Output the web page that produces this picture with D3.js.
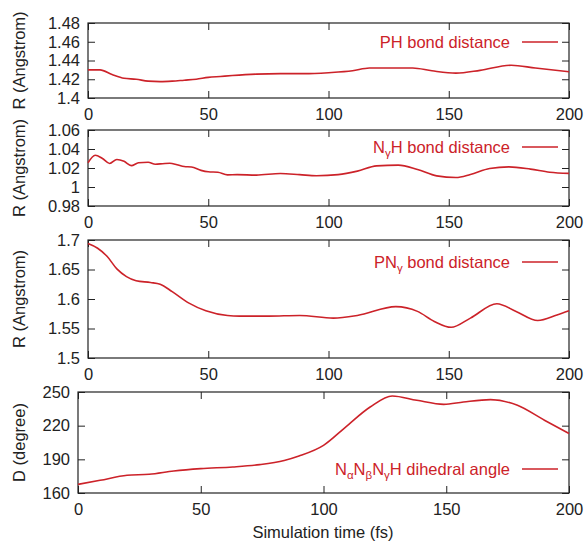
<!DOCTYPE html>
<html>
<head>
<meta charset="utf-8">
<script src="https://cdn.jsdelivr.net/npm/d3@7"></script>
<style>
  body { margin: 0; background: #fff; }
  text { font-family: "Liberation Sans", Arial, Helvetica, sans-serif; }
</style>
</head>
<body>
<div id="chart"></div>
<script>
// time axis (fs)
var xTicks = [0, 50, 100, 150, 200];

// PH bond distance
var phTime = [0, 5, 10, 15, 20, 25, 30, 35, 40, 45, 50, 55, 60, 70, 80, 90, 100, 110, 117, 135, 143, 153, 163, 176, 186, 200];
var phVal  = [1.430, 1.430, 1.425, 1.421, 1.420, 1.418, 1.4175, 1.418, 1.419, 1.420, 1.422, 1.423, 1.424, 1.4255, 1.426, 1.426, 1.427, 1.429, 1.432, 1.432, 1.429, 1.4265, 1.4295, 1.435, 1.432, 1.428];

// NγH bond distance
var nhTime = [0, 3, 6, 9, 12, 15, 18, 21, 25, 28, 31, 34, 37, 40, 43, 47, 50, 54, 58, 62, 70, 80, 88, 95, 104, 112, 120, 129, 137, 145, 153, 159, 167, 175, 184, 192, 200];
var nhVal  = [1.0255, 1.0335, 1.030, 1.0248, 1.029, 1.027, 1.0225, 1.0255, 1.026, 1.024, 1.0245, 1.025, 1.0235, 1.0215, 1.021, 1.0175, 1.016, 1.0155, 1.0128, 1.013, 1.0125, 1.0142, 1.013, 1.0118, 1.013, 1.0167, 1.0222, 1.023, 1.0185, 1.0117, 1.010, 1.0132, 1.0195, 1.0212, 1.0188, 1.0155, 1.0143];

// PNγ bond distance
var pnTime = [0, 4, 8, 12, 16, 20, 26, 30, 35, 42, 49, 58, 63, 75, 88, 102, 112, 128, 137, 144, 151, 159, 170, 178, 187, 195, 200];
var pnVal  = [1.694, 1.686, 1.672, 1.651, 1.638, 1.631, 1.628, 1.625, 1.6125, 1.593, 1.580, 1.572, 1.571, 1.571, 1.572, 1.5676, 1.572, 1.587, 1.579, 1.562, 1.552, 1.5676, 1.592, 1.579, 1.5635, 1.573, 1.580];

// NαNβNγH dihedral angle (degree)
var dhTime = [0, 9, 20, 29, 39, 50, 63, 74, 84, 90, 100, 109, 119, 128, 138, 149, 157, 168, 179, 190, 200];
var dhVal  = [167.7, 171.3, 175.8, 176.7, 179.6, 181.7, 183.2, 185.3, 189, 193, 202.5, 218.8, 236.6, 246.5, 242.6, 239, 241.1, 243.2, 238.2, 224.8, 213];

// y axis ranges and ticks
var yDomains = [[1.4, 1.48], [0.98, 1.06], [1.5, 1.7], [160, 250]];
var yTicks = [
  [1.4, 1.42, 1.44, 1.46, 1.48],
  [0.98, 1, 1.02, 1.04, 1.06],
  [1.5, 1.55, 1.6, 1.65, 1.7],
  [160, 190, 220, 250]
];
var yTitles = ["R (Angstrom)", "R (Angstrom)", "R (Angstrom)", "D (degree)"];

// legend text pieces: [text, isSubscript]
var legendLabels = [
  [["PH bond distance", false]],
  [["N", false], ["γ", true], ["H bond distance", false]],
  [["PN", false], ["γ", true], [" bond distance", false]],
  [["N", false], ["α", true], ["N", false], ["β", true], ["N", false], ["γ", true], ["H dihedral angle", false]]
];

var xTitle = "Simulation time (fs)";

var series = [
  {t: phTime, v: phVal},
  {t: nhTime, v: nhVal},
  {t: pnTime, v: pnVal},
  {t: dhTime, v: dhVal}
];

// layout of the four stacked panels
var boxes = [
  {left: 88, top: 23, bottom: 98, legendY: 42},
  {left: 88, top: 130, bottom: 206, legendY: 147},
  {left: 88, top: 240, bottom: 358, legendY: 262},
  {left: 78, top: 392, bottom: 493, legendY: 469}
];
var right = 569;
var titleX = 25;
var red = "#cc2229";
var ink = "#222";
var fontSize = 16.5;

var svg = d3.select("#chart")
  .append("svg")
  .attr("width", 587)
  .attr("height", 544);

var fmt = function(d) { return String(+d.toFixed(2)); };

boxes.forEach(function(b, i) {
  var x = d3.scaleLinear().domain([0, 200]).range([b.left, right]);
  var y = d3.scaleLinear().domain(yDomains[i]).range([b.bottom, b.top]);
  var g = svg.append("g");

  // bottom axis with labels
  g.append("g")
    .attr("transform", `translate(0, ${b.bottom})`)
    .call(d3.axisBottom(x).tickValues(xTicks).tickSize(-7).tickPadding(10.5).tickFormat(fmt));

  // top mirror ticks
  g.append("g")
    .attr("transform", `translate(0, ${b.top})`)
    .call(d3.axisTop(x).tickValues(xTicks).tickSize(-7).tickFormat(""));

  // left axis with labels
  g.append("g")
    .attr("transform", `translate(${b.left}, 0)`)
    .call(d3.axisLeft(y).tickValues(yTicks[i]).tickSize(-7).tickPadding(8).tickFormat(fmt));

  // right mirror ticks
  g.append("g")
    .attr("transform", `translate(${right}, 0)`)
    .call(d3.axisRight(y).tickValues(yTicks[i]).tickSize(-7).tickFormat(""));

  g.selectAll(".domain").remove();
  g.selectAll(".tick line").attr("stroke", ink).attr("stroke-width", 1);
  g.selectAll(".tick text")
    .attr("fill", ink)
    .style("font-size", fontSize + "px")
    .style("font-family", '"Liberation Sans", Arial, sans-serif');

  // frame
  g.append("rect")
    .attr("x", b.left)
    .attr("y", b.top)
    .attr("width", right - b.left)
    .attr("height", b.bottom - b.top)
    .attr("fill", "none")
    .attr("stroke", ink)
    .attr("stroke-width", 1.2);

  // data line
  var s = series[i];
  var line = d3.line()
    .x(function(d, j) { return x(s.t[j]); })
    .y(function(d) { return y(d); })
    .curve(d3.curveMonotoneX);

  g.append("path")
    .datum(s.v)
    .attr("d", line)
    .attr("fill", "none")
    .attr("stroke", red)
    .attr("stroke-width", 1.6);

  // legend
  g.append("line")
    .attr("x1", 522).attr("x2", 558)
    .attr("y1", b.legendY).attr("y2", b.legendY)
    .attr("stroke", red)
    .attr("stroke-width", 1.6);

  var lt = g.append("text")
    .attr("x", 510)
    .attr("y", b.legendY + 6)
    .attr("text-anchor", "end")
    .attr("fill", red)
    .style("font-size", fontSize + "px");

  var shifted = false;
  legendLabels[i].forEach(function(p) {
    var ts = lt.append("tspan").text(p[0]);
    if (p[1]) {
      ts.attr("dy", shifted ? 0 : 4).style("font-size", "11.5px");
      shifted = true;
    } else {
      if (shifted) ts.attr("dy", -4);
      shifted = false;
    }
  });

  // y title
  g.append("text")
    .attr("transform", `translate(${titleX}, ${(b.top + b.bottom) / 2}) rotate(-90)`)
    .attr("text-anchor", "middle")
    .attr("fill", ink)
    .style("font-size", fontSize + "px")
    .text(yTitles[i]);
});

svg.append("text")
  .attr("x", 323)
  .attr("y", 538)
  .attr("text-anchor", "middle")
  .attr("fill", ink)
  .style("font-size", fontSize + "px")
  .text(xTitle);
</script>
</body>
</html>
